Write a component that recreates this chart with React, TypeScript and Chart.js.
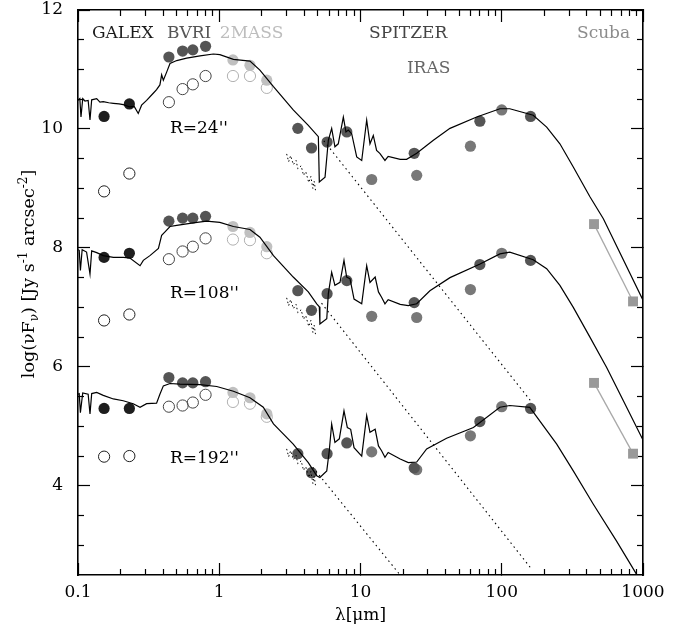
import React, { useEffect, useRef } from 'react';
import { Chart, registerables } from 'chart.js';

Chart.register(...registerables);

const FONT = "'DejaVu Serif', serif";

// ---- wavelengths (micron) ----
const galexWl = [0.153, 0.231];
const bvriWl = [0.44, 0.55, 0.65, 0.8];
const twoMassWl = [1.25, 1.65, 2.17];
const iracWl = [3.6, 4.5, 5.8, 8.0];
const mipsWl = [24, 70, 160];
const irasWl = [12, 25, 60, 100];
const scubaWl = [450, 850];

// ---- R = 24" ----
const galexCorr24 = [10.21, 10.42];
const galexObs24 = [8.95, 9.25];
const bvriCorr24 = [11.21, 11.31, 11.33, 11.39];
const bvriObs24 = [10.45, 10.67, 10.75, 10.89];
const tmCorr24 = [11.16, 11.07, 10.82];
const tmObs24 = [10.89, 10.89, 10.69];
const irac24 = [10.01, 9.68, 9.78, 9.95];
const mips24 = [9.59, 10.13, 10.21];
const iras24 = [9.15, 9.22, 9.71, 10.32];

// ---- R = 108" ----
const galexCorr108 = [7.84, 7.91];
const galexObs108 = [6.78, 6.88];
const bvriCorr108 = [8.45, 8.5, 8.5, 8.53];
const bvriObs108 = [7.81, 7.94, 8.02, 8.16];
const tmCorr108 = [8.36, 8.26, 8.02];
const tmObs108 = [8.14, 8.13, 7.91];
const irac108 = [7.28, 6.95, 7.23, 7.45];
const mips108 = [7.08, 7.72, 7.79];
const iras108 = [6.85, 6.83, 7.3, 7.91];
const scuba108 = [8.4, 7.1];

// ---- R = 192" ----
const galexCorr192 = [5.3, 5.3];
const galexObs192 = [4.49, 4.5];
const bvriCorr192 = [5.82, 5.73, 5.73, 5.75];
const bvriObs192 = [5.33, 5.35, 5.4, 5.53];
const tmCorr192 = [5.57, 5.48, 5.21];
const tmObs192 = [5.41, 5.38, 5.16];
const irac192 = [4.54, 4.22, 4.54, 4.72];
const mips192 = [4.3, 5.08, 5.3];
const iras192 = [4.57, 4.27, 4.84, 5.33];
const scuba192 = [5.73, 4.54];

// ---- model SEDs ----
const modelWl24 = [0.1, 0.103, 0.105, 0.108, 0.112, 0.118, 0.1216, 0.125, 0.1356, 0.143, 0.151, 0.165, 0.178, 0.195, 0.209, 0.233, 0.25, 0.267, 0.282, 0.306, 0.341, 0.36, 0.38, 0.391, 0.402, 0.425, 0.448, 0.5, 0.588, 0.731, 0.908, 1.01, 1.26, 1.65, 1.94, 2.42, 3.34, 4.27, 5.03, 5.11, 5.61, 5.92, 6.25, 6.59, 6.96, 7.56, 7.89, 8.2, 8.66, 9.4, 10.2, 11.06, 11.67, 12.32, 13.0, 13.7, 14.9, 15.7, 19.1, 21.2, 25, 32.8, 43, 66.5, 97, 114, 167, 208, 258, 321, 421, 524, 1000];
const modelVal24 = [10.48, 10.51, 10.2, 10.51, 10.47, 10.48, 10.15, 10.49, 10.51, 10.45, 10.46, 10.44, 10.43, 10.42, 10.41, 10.37, 10.38, 10.26, 10.4, 10.48, 10.6, 10.66, 10.74, 10.91, 10.82, 10.96, 11.1, 11.15, 11.19, 11.23, 11.26, 11.25, 11.17, 11.14, 10.99, 10.71, 10.32, 10.06, 9.87, 9.11, 9.19, 9.81, 10.01, 9.7, 9.75, 10.2, 9.95, 9.98, 9.92, 9.53, 9.47, 10.15, 9.75, 9.89, 9.64, 9.59, 9.47, 9.54, 9.49, 9.49, 9.59, 9.81, 10.01, 10.2, 10.34, 10.34, 10.23, 10.03, 9.75, 9.36, 8.86, 8.49, 7.12];

const modelWl108 = [0.1, 0.102, 0.104, 0.107, 0.115, 0.1216, 0.125, 0.1356, 0.151, 0.178, 0.209, 0.233, 0.275, 0.29, 0.323, 0.371, 0.391, 0.413, 0.448, 0.5, 0.655, 0.814, 1.01, 1.26, 1.65, 1.94, 2.42, 3.34, 4.27, 4.9, 5.11, 5.16, 5.77, 5.92, 6.25, 6.59, 7.16, 7.64, 7.98, 8.43, 9.0, 10.2, 11.06, 11.67, 12.7, 13.4, 14.1, 14.9, 15.7, 19.1, 21.8, 25, 31, 43, 70.2, 97, 114, 167, 208, 258, 321, 421, 553, 726, 1000];
const modelVal108 = [7.97, 7.96, 7.62, 7.97, 7.93, 7.56, 7.95, 7.92, 7.87, 7.84, 7.84, 7.83, 7.7, 7.79, 7.87, 7.99, 8.21, 8.27, 8.36, 8.38, 8.42, 8.45, 8.43, 8.36, 8.31, 8.18, 7.87, 7.51, 7.26, 7.06, 7.01, 6.72, 6.81, 7.23, 7.59, 7.37, 7.42, 7.79, 7.51, 7.48, 7.14, 7.06, 7.7, 7.42, 7.51, 7.26, 7.17, 7.06, 7.13, 7.05, 7.03, 7.06, 7.28, 7.5, 7.73, 7.9, 7.93, 7.8, 7.65, 7.37, 7.0, 6.5, 5.99, 5.43, 4.77];

const modelWl192 = [0.1, 0.102, 0.104, 0.108, 0.118, 0.1216, 0.125, 0.1356, 0.151, 0.178, 0.209, 0.246, 0.275, 0.306, 0.36, 0.38, 0.402, 0.448, 0.527, 0.731, 0.96, 1.26, 1.65, 2.05, 2.42, 3.34, 4.27, 4.9, 5.16, 5.77, 6.01, 6.25, 6.59, 7.08, 7.64, 8.07, 8.52, 9.0, 10.2, 11.06, 11.67, 12.7, 13.4, 14.1, 14.9, 15.7, 19.1, 21.8, 25, 29.4, 40.7, 63, 97, 114, 158, 245, 321, 445, 650, 901];
const modelVal192 = [5.54, 5.55, 5.23, 5.56, 5.54, 5.21, 5.55, 5.57, 5.52, 5.46, 5.43, 5.38, 5.32, 5.38, 5.39, 5.54, 5.68, 5.72, 5.71, 5.7, 5.67, 5.59, 5.48, 5.32, 5.04, 4.7, 4.39, 4.17, 4.14, 4.25, 4.59, 5.04, 4.73, 4.79, 5.26, 4.98, 4.95, 4.64, 4.5, 5.18, 4.9, 4.95, 4.67, 4.59, 4.48, 4.56, 4.45, 4.39, 4.4, 4.62, 4.8, 4.98, 5.32, 5.35, 5.32, 4.7, 4.25, 3.69, 3.07, 2.51];

// ---- stellar Rayleigh-Jeans extrapolations (dotted) ----
const rjWl24 = [5.5, 160];
const rjVal24 = [9.8, 5.43];
const rjWl108 = [5.3, 160];
const rjVal108 = [7.07, 2.62];
const rjWl192 = [4.6, 20];
const rjVal192 = [4.31, 2.44];

// ---- noisy near-IR spectra (dotted) ----
const nirWl = [3.0, 3.1, 3.2, 3.35, 3.5, 3.6, 3.8, 3.95, 4.1, 4.3, 4.45, 4.6, 4.7, 4.8];
const nirVal24 = [9.58, 9.45, 9.55, 9.4, 9.47, 9.33, 9.38, 9.22, 9.28, 9.1, 9.2, 9.0, 9.12, 8.97];
const nirVal108 = [7.16, 7.03, 7.13, 6.98, 7.05, 6.91, 6.96, 6.8, 6.86, 6.68, 6.78, 6.58, 6.7, 6.55];
const nirVal192 = [4.62, 4.49, 4.59, 4.44, 4.51, 4.37, 4.42, 4.26, 4.32, 4.14, 4.24, 4.04, 4.16, 4.01];

// ---- axes ----
const xTicks = [0.1, 1, 10, 100, 1000];
const xTickLabels = ['0.1', '1', '10', '100', '1000'];
const xMinorTicks = [0.2, 0.3, 0.4, 0.5, 0.6, 0.7, 0.8, 0.9, 2, 3, 4, 5, 6, 7, 8, 9, 20, 30, 40, 50, 60, 70, 80, 90, 200, 300, 400, 500, 600, 700, 800, 900];
const yTicks = [4, 6, 8, 10, 12];
const yMinorTicks = [3, 3.5, 4.5, 5, 5.5, 6.5, 7, 7.5, 8.5, 9, 9.5, 10.5, 11, 11.5];

// ---- text labels ----
const instrumentNames = ['GALEX', 'BVRI', '2MASS', 'SPITZER', 'IRAS', 'Scuba'];
const instrumentColors = ['#1a1a1a', '#555555', '#bdbdbd', '#444444', '#666666', '#8c8c8c'];
const instrumentAnchorsX = [0.1256, 0.426, 1.01, 11.5, 21.3, 341];
const instrumentAnchorsY = [11.61, 11.61, 11.61, 11.61, 11.02, 11.61];
const apertureLabels = ["R=24''", "R=108''", "R=192''"];
const apertureAnchorX = 0.448;
const apertureAnchorY = [10.0, 7.23, 4.45];

const pts = (xs: number[], ys: number[]) => xs.map((x, i) => ({ x, y: ys[i] }));

const lineDs = (xs: number[], ys: number[], extra: any = {}) => ({
  data: pts(xs, ys),
  showLine: true,
  borderColor: '#000',
  borderWidth: 1.2,
  pointRadius: 0,
  tension: 0,
  ...extra,
});

const filledDs = (xs: number[], ys: number[], color: string) => ({
  data: pts(xs, ys),
  showLine: false,
  pointRadius: 5.6,
  pointBackgroundColor: color,
  pointBorderColor: color,
  pointBorderWidth: 0,
});

const openDs = (xs: number[], ys: number[], color: string) => ({
  data: pts(xs, ys),
  showLine: false,
  pointRadius: 5.6,
  pointBackgroundColor: 'rgba(255,255,255,0)',
  pointBorderColor: color,
  pointBorderWidth: 1,
});

const scubaDs = (ys: number[]) => ({
  data: pts(scubaWl, ys),
  showLine: true,
  borderColor: '#a8a8a8',
  borderWidth: 1.3,
  pointStyle: 'rect',
  pointRadius: 7,
  pointBackgroundColor: '#999999',
  pointBorderColor: '#999999',
  pointBorderWidth: 0,
});

// extra tick-only axes (inward ticks via negative tickLength)
const tickAxis = (kind: 'x' | 'y', position: string, values: number[], len: number, border: boolean, weight: number) => ({
  type: kind === 'x' ? 'logarithmic' : 'linear',
  position,
  min: kind === 'x' ? 0.1 : 2.5,
  max: kind === 'x' ? 1000 : 12,
  weight,
  grid: { display: true, drawOnChartArea: false, drawTicks: true, tickLength: -len, tickColor: '#000', tickWidth: 1.2, color: '#000' },
  border: { display: border, color: '#000', width: 1.6 },
  ticks: { display: false },
  afterBuildTicks: (s: any) => {
    s.ticks = values.map((v) => ({ value: v }));
  },
  afterFit: (s: any) => {
    if (kind === 'x') s.height = 0;
    else s.width = 0;
    s.paddingLeft = 0;
    s.paddingRight = 0;
    s.paddingTop = 0;
    s.paddingBottom = 0;
  },
});

const textLayer = {
  id: 'textLayer',
  afterDraw(chart: any) {
    const ctx = chart.ctx;
    const sx = chart.scales.x;
    const sy = chart.scales.y;
    ctx.save();
    ctx.textBaseline = 'middle';
    ctx.textAlign = 'left';
    ctx.font = `17px ${FONT}`;
    instrumentNames.forEach((t, i) => {
      ctx.fillStyle = instrumentColors[i];
      ctx.fillText(t, sx.getPixelForValue(instrumentAnchorsX[i]), sy.getPixelForValue(instrumentAnchorsY[i]));
    });
    ctx.fillStyle = '#000';
    apertureLabels.forEach((t, i) => {
      ctx.fillText(t, sx.getPixelForValue(apertureAnchorX), sy.getPixelForValue(apertureAnchorY[i]));
    });

    // y axis title (rotated, with sub/superscripts)
    const segs: [string, number][] = [
      ['log(\u03BDF', 0],
      ['\u03BD', 1],
      [') [Jy s', 0],
      ['-1', -1],
      [' arcsec', 0],
      ['-2', -1],
      [']', 0],
    ];
    const big = 17.5;
    const small = 12;
    const widths = segs.map(([t, k]) => {
      ctx.font = `${k === 0 ? big : small}px ${FONT}`;
      return ctx.measureText(t).width;
    });
    const total = widths.reduce((a: number, b: number) => a + b, 0);
    ctx.translate(29, 274);
    ctx.rotate(-Math.PI / 2);
    let cx = -total / 2;
    ctx.textBaseline = 'alphabetic';
    segs.forEach(([t, k], i) => {
      ctx.font = `${k === 0 ? big : small}px ${FONT}`;
      const dy = k === 0 ? 0 : k === 1 ? 4 : -7;
      ctx.fillText(t, cx, 5 + dy);
      cx += widths[i];
    });
    ctx.restore();
  },
};

export default function App() {
  const ref = useRef<HTMLCanvasElement>(null);
  useEffect(() => {
    if (!ref.current) return;
    Chart.defaults.font.family = FONT;
    Chart.defaults.font.size = 17;
    Chart.defaults.color = '#000';
    const chart = new Chart(ref.current, {
      type: 'scatter',
      data: {
        datasets: [
          lineDs(modelWl24, modelVal24),
          lineDs(modelWl108, modelVal108),
          lineDs(modelWl192, modelVal192),
          lineDs(rjWl24, rjVal24, { borderDash: [1.5, 3.5], borderWidth: 1.1 }),
          lineDs(rjWl108, rjVal108, { borderDash: [1.5, 3.5], borderWidth: 1.1 }),
          lineDs(rjWl192, rjVal192, { borderDash: [1.5, 3.5], borderWidth: 1.1 }),
          lineDs(nirWl, nirVal24, { borderDash: [1.5, 2.5], borderWidth: 1 }),
          lineDs(nirWl, nirVal108, { borderDash: [1.5, 2.5], borderWidth: 1 }),
          lineDs(nirWl, nirVal192, { borderDash: [1.5, 2.5], borderWidth: 1 }),
          scubaDs(scuba108),
          scubaDs(scuba192),
          filledDs(galexWl, galexCorr24, '#1e1e1e'),
          filledDs(galexWl, galexCorr108, '#1e1e1e'),
          filledDs(galexWl, galexCorr192, '#1e1e1e'),
          openDs(galexWl, galexObs24, '#1e1e1e'),
          openDs(galexWl, galexObs108, '#1e1e1e'),
          openDs(galexWl, galexObs192, '#1e1e1e'),
          filledDs(bvriWl, bvriCorr24, '#555555'),
          filledDs(bvriWl, bvriCorr108, '#555555'),
          filledDs(bvriWl, bvriCorr192, '#555555'),
          openDs(bvriWl, bvriObs24, '#444444'),
          openDs(bvriWl, bvriObs108, '#444444'),
          openDs(bvriWl, bvriObs192, '#444444'),
          filledDs(twoMassWl, tmCorr24, '#c0c0c0'),
          filledDs(twoMassWl, tmCorr108, '#c0c0c0'),
          filledDs(twoMassWl, tmCorr192, '#c0c0c0'),
          openDs(twoMassWl, tmObs24, '#b0b0b0'),
          openDs(twoMassWl, tmObs108, '#b0b0b0'),
          openDs(twoMassWl, tmObs192, '#b0b0b0'),
          filledDs(iracWl, irac24, '#555555'),
          filledDs(iracWl, irac108, '#555555'),
          filledDs(iracWl, irac192, '#555555'),
          filledDs(mipsWl, mips24, '#555555'),
          filledDs(mipsWl, mips108, '#555555'),
          filledDs(mipsWl, mips192, '#555555'),
          filledDs(irasWl, iras24, '#787878'),
          filledDs(irasWl, iras108, '#787878'),
          filledDs(irasWl, iras192, '#787878'),
        ] as any,
      },
      options: {
        animation: false,
        responsive: false,
        devicePixelRatio: 1,
        events: [],
        layout: { padding: { left: 8, top: 10, right: 41, bottom: 0 } },
        plugins: { legend: { display: false }, tooltip: { enabled: false } },
        scales: {
          x: {
            type: 'logarithmic',
            position: 'bottom',
            min: 0.1,
            max: 1000,
            weight: 1,
            grid: { display: true, drawOnChartArea: false, drawTicks: true, tickLength: -12, tickColor: '#000', tickWidth: 1.2, color: '#000' },
            border: { display: true, color: '#000', width: 1.6 },
            afterFit: (s: any) => {
              s.height = 58;
              s.paddingLeft = 0;
              s.paddingRight = 0;
            },
            afterBuildTicks: (s: any) => {
              s.ticks = xTicks.map((v) => ({ value: v }));
            },
            ticks: {
              padding: 19,
              maxRotation: 0,
              autoSkip: false,
              font: { size: 17, family: FONT },
              color: '#000',
              callback: (v: any) => {
                const i = xTicks.indexOf(Number(v));
                return i >= 0 ? xTickLabels[i] : '';
              },
            },
            title: {
              display: true,
              text: '\u03BB[\u03BCm]',
              font: { size: 17, family: FONT },
              color: '#000',
              padding: { top: 0, bottom: 7 },
            },
          },
          xMinor: tickAxis('x', 'bottom', xMinorTicks, 6, false, 0),
          xTop: tickAxis('x', 'top', xTicks, 12, true, 1),
          xTopMinor: tickAxis('x', 'top', xMinorTicks, 6, false, 0),
          y: {
            type: 'linear',
            position: 'left',
            min: 2.5,
            max: 12,
            weight: 1,
            grid: { display: true, drawOnChartArea: false, drawTicks: true, tickLength: -12, tickColor: '#000', tickWidth: 1.2, color: '#000' },
            border: { display: true, color: '#000', width: 1.6 },
            afterFit: (s: any) => {
              s.width = 70;
              s.paddingTop = 0;
              s.paddingBottom = 0;
            },
            afterBuildTicks: (s: any) => {
              s.ticks = yTicks.map((v) => ({ value: v }));
            },
            ticks: {
              padding: 27,
              font: { size: 17, family: FONT },
              color: '#000',
              callback: (v: any) => String(v),
            },
          },
          yMinor: tickAxis('y', 'left', yMinorTicks, 6, false, 0),
          yRight: tickAxis('y', 'right', yTicks, 12, true, 1),
          yRightMinor: tickAxis('y', 'right', yMinorTicks, 6, false, 0),
        } as any,
      },
      plugins: [textLayer],
    });
    return () => chart.destroy();
  }, []);
  return (
    <div style={{ position: 'fixed', left: 0, top: 0, width: 684, height: 633, background: '#fff' }}>
      <canvas ref={ref} width={684} height={633} style={{ width: 684, height: 633, display: 'block' }} />
    </div>
  );
}
